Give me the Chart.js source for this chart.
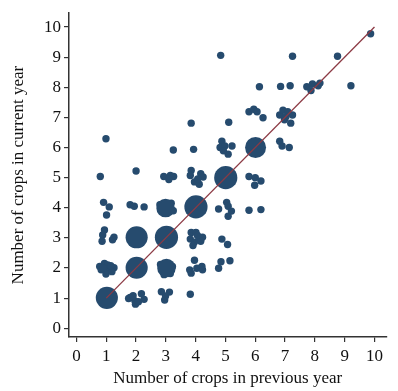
<!DOCTYPE html>
<html>
<head>
<meta charset="utf-8">
<script src="https://cdn.jsdelivr.net/npm/chart.js@4.4.1/dist/chart.umd.min.js"></script>
<style>
  html, body { margin: 0; padding: 0; background: #fff; }
  #wrap { width: 398px; height: 391px; }
</style>
</head>
<body>
<div id="wrap"><canvas id="myChart" width="398" height="391"></canvas></div>
<script>
// single crop-count pairs (jittered)
const dotX = [
  1.80, 1.96, 2.18, 2.27, 1.98, 1.75, 2.08, 1.90,
  2.85, 3.12, 2.96, 2.99, 3.82,
  0.78, 0.94, 1.10, 1.26, 0.99, 0.83, 1.19, 1.05, 0.90, 1.15,
  2.82, 3.22, 3.15, 2.94,
  3.96, 3.80, 3.85, 4.04, 4.21, 4.23,
  4.77, 4.85, 5.15,
  0.94, 0.88, 0.86, 1.26, 1.21,
  3.85, 4.01, 3.82, 3.96, 3.91, 4.12, 4.23, 4.17, 4.06,
  4.88, 5.07,
  0.91, 1.10, 1.01,
  1.80, 1.94, 2.27,
  2.80, 3.25, 3.18,
  4.77, 5.04, 5.09, 5.20, 5.09,
  5.79, 6.19,
  0.80, 2.00,
  2.93, 3.15, 3.26, 3.10,
  3.85, 3.82, 3.96, 4.12, 4.17, 4.25, 4.07,
  5.79, 6.00, 6.19, 5.98,
  0.99, 3.25, 3.85, 3.93,
  4.88, 4.82, 4.98, 5.09, 5.22, 4.93,
  5.11,
  6.82, 6.90, 7.14,
  5.79, 5.95, 6.06, 6.26,
  6.82, 6.93, 7.09, 7.25, 6.98, 7.19, 7.03,
  6.14, 6.85, 7.17,
  7.73, 7.92, 7.87, 8.11, 8.17,
  9.21,
  4.84, 7.25, 8.76, 9.87
];
const dotY = [
  1.02, 0.91, 1.15, 0.96, 0.80, 0.99, 0.88, 1.08,
  1.21, 1.20, 0.94, 1.07, 1.13,
  2.05, 2.15, 1.97, 2.01, 1.80, 1.94, 1.88, 2.10, 2.00, 2.08,
  2.12, 2.05, 1.82, 1.78,
  2.26, 1.94, 1.83, 1.99, 2.05, 1.94,
  1.99, 2.21, 2.24,
  3.26, 3.10, 2.89, 3.02, 2.94,
  3.18, 3.18, 2.96, 2.86, 2.75, 2.96, 3.02, 2.89, 3.08,
  2.96, 2.78,
  4.18, 4.03, 3.76,
  4.10, 4.05, 4.03,
  4.10, 3.90, 4.15,
  3.96, 4.18, 4.05, 3.89, 3.72,
  3.92, 3.94,
  5.04, 5.22,
  5.04, 5.07, 5.04, 4.94,
  5.24, 5.07, 4.86, 4.78, 5.13, 5.02, 4.96,
  5.04, 5.00, 4.89, 4.75,
  6.29, 5.92, 6.81, 5.94,
  6.21, 6.00, 6.05, 5.78, 6.05, 5.89,
  6.84,
  6.21, 6.05, 6.00,
  7.19, 7.27, 7.19, 6.99,
  7.08, 7.24, 7.19, 7.08, 6.92, 6.81, 7.02,
  8.02, 8.03, 8.05,
  8.02, 8.11, 7.89, 8.05, 8.14,
  8.05,
  9.06, 9.03, 9.03, 9.78
];

// frequent pairs, drawn with area by count
const clusterX = [1.02, 2.02, 2.02, 3.02, 3.02, 2.99, 4.01, 5.01, 6.01];
const clusterY = [1.01, 2.01, 3.02, 3.02, 2.00, 3.99, 4.03, 5.00, 6.00];
const clusterCount = [10, 10, 10, 11, 7, 7, 11, 11, 9];

// 45 degree reference line
const lineX = [1, 10];
const lineY = [1, 10];

const xTicks = [0, 1, 2, 3, 4, 5, 6, 7, 8, 9, 10];
const yTicks = [0, 1, 2, 3, 4, 5, 6, 7, 8, 9, 10];

const dotColor = "#264b6e";
const lineColor = "#8c3a44";
const axisColor = "#333333";
const fontFamily = "'Liberation Serif', 'DejaVu Serif', serif";

const dots = dotX.map((x, i) => ({ x: x, y: dotY[i] }));
const clusters = clusterX.map((x, i) => ({ x: x, y: clusterY[i] }));
const diag = lineX.map((x, i) => ({ x: x, y: lineY[i] }));

const ctx = document.getElementById("myChart").getContext("2d");
const chart = new Chart(ctx, {
  type: "scatter",
  data: {
    datasets: [
      {
        label: "45 degree line",
        data: diag,
        showLine: true,
        borderColor: lineColor,
        borderWidth: 1.3,
        pointRadius: 0,
        order: 0,
      },
      {
        label: "Frequent",
        data: clusters,
        backgroundColor: dotColor,
        borderWidth: 0,
        pointRadius: (c) => 3.5 * Math.sqrt(clusterCount[c.dataIndex]),
        order: 1,
      },
      {
        label: "Crops",
        data: dots,
        backgroundColor: dotColor,
        borderWidth: 0,
        pointRadius: 3.7,
        order: 2,
      },
    ],
  },
  options: {
    responsive: false,
    animation: false,
    events: [],
    layout: { padding: { top: 5, right: 0, left: 0, bottom: 0 } },
    scales: {
      x: {
        type: "linear",
        min: -0.25,
        max: 10.4,
        afterFit: (scale) => {
          scale.height = 54;
        },
        afterBuildTicks: (axis) => {
          axis.ticks = xTicks.map((v) => ({ value: v }));
        },
        grid: {
          display: true,
          drawOnChartArea: false,
          drawTicks: true,
          tickLength: 5,
          color: axisColor,
          lineWidth: 1.2,
        },
        border: { display: true, color: axisColor, width: 1.5 },
        ticks: {
          color: "#111",
          padding: 4,
          maxRotation: 0,
          autoSkip: false,
          font: { family: fontFamily, size: 17 },
        },
        title: {
          display: true,
          text: "Number of crops in previous year",
          color: "#111",
          padding: { top: 0, bottom: 2 },
          font: { family: fontFamily, size: 17 },
        },
      },
      y: {
        type: "linear",
        min: -0.29,
        max: 10.46,
        afterFit: (scale) => {
          scale.width = 69;
        },
        afterBuildTicks: (axis) => {
          axis.ticks = yTicks.map((v) => ({ value: v }));
        },
        grid: {
          display: true,
          drawOnChartArea: false,
          drawTicks: true,
          tickLength: 5,
          color: axisColor,
          lineWidth: 1.2,
        },
        border: { display: true, color: axisColor, width: 1.5 },
        ticks: {
          color: "#111",
          padding: 3,
          autoSkip: false,
          font: { family: fontFamily, size: 17 },
        },
        title: {
          display: true,
          text: "Number of crops in current year",
          color: "#111",
          padding: { top: 8, bottom: 0 },
          font: { family: fontFamily, size: 17 },
        },
      },
    },
    plugins: {
      legend: { display: false },
      tooltip: { enabled: false },
    },
  },
});
</script>
</body>
</html>
